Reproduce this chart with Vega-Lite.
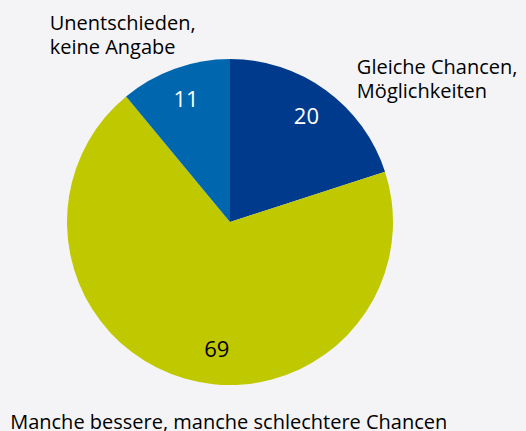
{
  "$schema": "https://vega.github.io/schema/vega-lite/v6.json",
  "autosize": {"type": "none"},
  "width": 460,
  "height": 418,
  "padding": {"left": 0, "right": 66, "top": 13, "bottom": 0},
  "background": "#f4f4f7",
  "config": {"view": {"stroke": null}, "font": "Open Sans"},
  "data": {
    "values": [
      {"kategorie": "Gleiche Chancen, Möglichkeiten", "label": "Gleiche Chancen,\nMöglichkeiten", "wert": 20},
      {"kategorie": "Manche bessere, manche schlechtere Chancen", "label": "Manche bessere, manche schlechtere Chancen", "wert": 69},
      {"kategorie": "Unentschieden, keine Angabe", "label": "Unentschieden,\nkeine Angabe", "wert": 11}
    ]
  },
  "layer": [
    {
      "mark": {"type": "arc", "outerRadius": 163},
      "encoding": {
        "theta": {"field": "wert", "type": "quantitative", "stack": true},
        "order": {"field": "kategorie", "type": "nominal", "sort": "ascending"},
        "color": {
          "field": "kategorie", "type": "nominal", "legend": null,
          "scale": {
            "domain": ["Gleiche Chancen, Möglichkeiten", "Manche bessere, manche schlechtere Chancen", "Unentschieden, keine Angabe"],
            "range": ["#003a8c", "#c0c800", "#0066ad"]
          }
        }
      }
    },
    {
      "mark": {"type": "text", "radius": 130, "fill": "#ffffff", "fontSize": 22, "align": "center", "baseline": "middle"},
      "encoding": {
        "theta": {"field": "wert", "type": "quantitative", "stack": true},
        "order": {"field": "kategorie", "type": "nominal", "sort": "ascending"},
        "detail": {"field": "kategorie", "type": "nominal"},
        "text": {"condition": {"test": "datum.wert != 69", "field": "wert", "type": "quantitative"}, "value": ""}
      }
    },
    {
      "mark": {"type": "text", "radius": 130, "fill": "#000000", "fontSize": 22, "align": "center", "baseline": "middle", "dx": 23, "dy": 3},
      "encoding": {
        "theta": {"field": "wert", "type": "quantitative", "stack": true},
        "order": {"field": "kategorie", "type": "nominal", "sort": "ascending"},
        "detail": {"field": "kategorie", "type": "nominal"},
        "text": {"condition": {"test": "datum.wert == 69", "field": "wert", "type": "quantitative"}, "value": ""}
      }
    },
    {
      "mark": {"type": "text", "radius": 175, "fill": "#000000", "fontSize": 20, "align": "left", "baseline": "alphabetic", "lineBreak": "\n", "lineHeight": 24, "dx": 24, "dy": -6},
      "encoding": {
        "theta": {"field": "wert", "type": "quantitative", "stack": true},
        "order": {"field": "kategorie", "type": "nominal", "sort": "ascending"},
        "detail": {"field": "kategorie", "type": "nominal"},
        "text": {"condition": {"test": "datum.wert == 20", "field": "label", "type": "nominal"}, "value": ""}
      }
    },
    {
      "mark": {"type": "text", "radius": 175, "fill": "#000000", "fontSize": 20, "align": "left", "baseline": "alphabetic", "lineBreak": "\n", "lineHeight": 24, "dx": -121, "dy": -27},
      "encoding": {
        "theta": {"field": "wert", "type": "quantitative", "stack": true},
        "order": {"field": "kategorie", "type": "nominal", "sort": "ascending"},
        "detail": {"field": "kategorie", "type": "nominal"},
        "text": {"condition": {"test": "datum.wert == 11", "field": "label", "type": "nominal"}, "value": ""}
      }
    },
    {
      "mark": {"type": "text", "radius": 175, "fill": "#000000", "fontSize": 20, "align": "left", "baseline": "alphabetic", "lineBreak": "\n", "lineHeight": 24, "dx": -171, "dy": 39},
      "encoding": {
        "theta": {"field": "wert", "type": "quantitative", "stack": true},
        "order": {"field": "kategorie", "type": "nominal", "sort": "ascending"},
        "detail": {"field": "kategorie", "type": "nominal"},
        "text": {"condition": {"test": "datum.wert == 69", "field": "label", "type": "nominal"}, "value": ""}
      }
    }
  ]
}
